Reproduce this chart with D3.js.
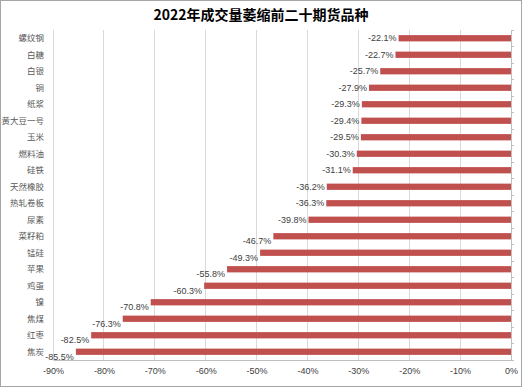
<!DOCTYPE html>
<html lang="zh-cn">
<head>
	<meta charset="utf-8">
	<script src="https://cdn.jsdelivr.net/npm/d3@7"></script>
	<title>2022年成交量萎缩前二十期货品种</title>
	<style>
		body { margin: 0; background: #fff; }
		svg { display: block; font-family: "Liberation Sans", "Noto Sans CJK SC", sans-serif; }
	</style>
</head>
<body>
	<svg width="522" height="387"></svg>
	<script>
	// 品种 和 成交量变化（%）
	var categories = ["螺纹钢","白糖","白银","铜","纸浆","黄大豆一号","玉米","燃料油","硅铁","天然橡胶",
		"热轧卷板","尿素","菜籽粕","锰硅","苹果","鸡蛋","镍","焦煤","红枣","焦炭"];
	var values = [-22.1,-22.7,-25.7,-27.9,-29.3,-29.4,-29.5,-30.3,-31.1,-36.2,
		-36.3,-39.8,-46.7,-49.3,-55.8,-60.3,-70.8,-76.3,-82.5,-85.5];
	var ticks = [-90,-80,-70,-60,-50,-40,-30,-20,-10,0];

	var svg = d3.select("svg");
	var W = 522, H = 387;
	var marge = {top:30, bottom:27, left:53, right:11};

	// 外框
	svg.append("rect")
		.attr("x",0.5).attr("y",0.5)
		.attr("width",W-1).attr("height",H-1)
		.attr("fill","#fff").attr("stroke","#a6a6a6");

	// 标题
	svg.append("text")
		.attr("x",W/2).attr("y",20)
		.attr("text-anchor","middle")
		.attr("font-family","'Noto Sans CJK SC', sans-serif")
		.attr("font-size",14).attr("font-weight","bold")
		.attr("fill","#000")
		.text("2022年成交量萎缩前二十期货品种");

	var x = d3.scaleLinear().domain([-90,0]).range([marge.left, W-marge.right]);
	var y = d3.scaleBand().domain(categories).range([marge.top, H-marge.bottom]).paddingInner(0.62).paddingOuter(0.31);
	var band = d3.scaleBand().domain(categories).range([marge.top, H-marge.bottom]);

	// 网格线
	svg.append("g").selectAll("line").data(ticks).enter().append("line")
		.attr("x1",function(d){return x(d);}).attr("x2",function(d){return x(d);})
		.attr("y1",marge.top).attr("y2",H-marge.bottom)
		.attr("stroke","#d9d9d9").attr("stroke-width",1)
		.attr("shape-rendering","crispEdges");

	// 横轴
	var xAxis = svg.append("g")
		.attr("transform","translate(0,"+(H-marge.bottom)+")")
		.call(d3.axisBottom(x).tickValues(ticks).tickSize(0).tickPadding(8)
			.tickFormat(function(d){return d+"%";}));
	xAxis.select(".domain").attr("stroke","#bfbfbf");
	xAxis.selectAll("text").attr("font-size",9).attr("fill","#404040");

	// 纵轴（在0处）
	var yAxis = svg.append("g")
		.attr("transform","translate("+x(0)+",0)");
	yAxis.append("line")
		.attr("x1",0).attr("x2",0).attr("y1",marge.top).attr("y2",H-marge.bottom)
		.attr("stroke","#bfbfbf").attr("shape-rendering","crispEdges");
	yAxis.selectAll(".tk").data(categories.concat(["end"])).enter().append("line")
		.attr("x1",0).attr("x2",3)
		.attr("y1",function(d,i){return marge.top + i*band.step();})
		.attr("y2",function(d,i){return marge.top + i*band.step();})
		.attr("stroke","#bfbfbf").attr("shape-rendering","crispEdges");

	// 柱子
	svg.append("g").selectAll("rect").data(values).enter().append("rect")
		.attr("x",function(d){return x(d);})
		.attr("y",function(d,i){return y(categories[i]);})
		.attr("width",function(d){return x(0)-x(d);})
		.attr("height",y.bandwidth())
		.attr("fill","#c0504d");

	// 类别标签
	svg.append("g").selectAll("text").data(categories).enter().append("text")
		.attr("x",44)
		.attr("y",function(d){return band(d)+band.bandwidth()/2;})
		.attr("dy","0.35em")
		.attr("text-anchor","end")
		.attr("font-family","'Noto Sans CJK SC', sans-serif")
		.attr("font-size",8.5).attr("fill","#595959")
		.text(function(d){return d;});

	// 数值标签（靠下的几个略下移，避开相邻柱子）
	svg.append("g").selectAll("text").data(values).enter().append("text")
		.attr("x",function(d){return x(d)-2;})
		.attr("y",function(d,i){return band(categories[i])+band.bandwidth()/2 + (d < -45 ? 5 : 0);})
		.attr("dy","0.35em")
		.attr("text-anchor","end")
		.attr("font-size",9).attr("fill","#404040")
		.text(function(d){return d.toFixed(1)+"%";});
	</script>
</body>
</html>
